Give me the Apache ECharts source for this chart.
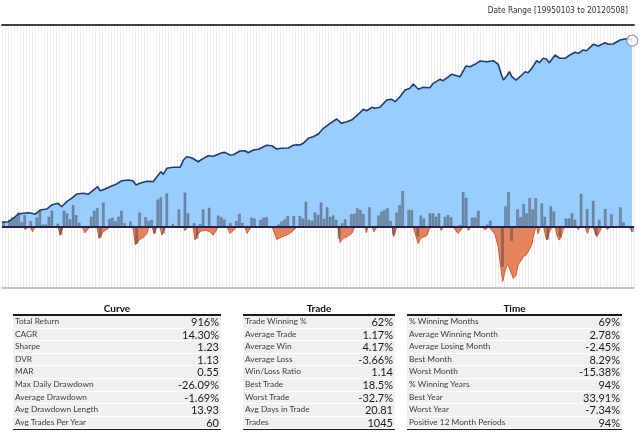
<!DOCTYPE html>
<html>
<head>
<meta charset="utf-8">
<script src="https://cdn.jsdelivr.net/npm/echarts@6/dist/echarts.min.js"></script>
<style>
  html, body { margin: 0; padding: 0; background: #fff; }
  #chart { position: absolute; left: 0; top: 0; width: 640px; height: 433px; }
  .tbl { position: absolute; top: 302px; font-family: Lato, "Open Sans", sans-serif; }
  .tbl .hd { height: 12px; line-height: 12px; text-align: center; font-weight: bold; font-size: 10px; color: #111; border-bottom: 2px solid #1a1a1a; }
  .tbl .row { height: 11.6px; border-bottom: 1px solid #ffffff; background: #f0f0f0; position: relative; }
  .tbl .lab { position: absolute; left: 2px; top: 0; line-height: 11.6px; font-size: 8.3px; color: #404040; }
  .tbl .val { position: absolute; right: 2px; top: 0; line-height: 11.6px; font-size: 11px; color: #1a1a1a; }
  .tbl .foot { border-top: 2px solid #1a1a1a; margin-top: -1px; }
</style>
</head>
<body>
<div id="chart"></div>
<script>
// ---- Data (months since 1995-01) ----
const titleText = 'Date Range [19950103 to 20120508]';
const monthCount = 209; // Jan 1995 .. May 2012

// Growth of $1 (log-scaled in the chart): [monthsSinceStart, equity]
const equityCurve = [
[0,1.000],[2.1,1.008],[3.7,1.052],[5.4,1.112],[7.0,1.122],[8.7,1.130],[9.8,1.122],[10.9,1.107],[12.6,1.170],[14.8,1.185],
[16.4,1.247],[18.6,1.274],[19.7,1.220],[21.4,1.301],[23.0,1.358],[24.7,1.435],[26.9,1.448],[28.5,1.430],[30.2,1.510],[31.6,1.575],
[32.4,1.497],[34.1,1.530],[35.7,1.575],[37.9,1.631],[39.6,1.701],[41.8,1.716],[43.4,1.694],[44.3,1.610],[45.6,1.645],[47.9,1.688],
[50.0,1.680],[51.2,1.789],[52.6,1.908],[53.3,1.845],[54.5,1.992],[56.6,2.018],[58.9,2.018],[60.0,2.214],[61.1,2.310],[62.7,2.281],
[63.3,2.331],[64.9,2.167],[66.6,2.263],[68.2,2.340],[69.9,2.322],[72.7,2.431],[73.7,2.443],[75.4,2.361],[76.5,2.370],[78.7,2.485],
[80.4,2.494],[81.4,2.431],[83.1,2.516],[84.8,2.539],[87.5,2.673],[89.2,2.659],[90.8,2.549],[92.5,2.572],[94.7,2.582],[96.3,2.673],
[97.5,2.693],[98.5,2.683],[99.6,2.741],[101.3,2.922],[102.9,2.982],[104.6,3.086],[106.3,3.320],[108.5,3.539],[110.7,3.738],[111.2,3.786],
[112.3,3.539],[114.0,3.611],[115.6,3.690],[117.3,3.898],[119.5,4.231],[120.6,4.155],[122.3,4.341],[123.3,4.286],[125.0,4.341],[127.2,4.763],
[128.9,4.806],[130.0,4.661],[131.6,4.969],[133.3,5.412],[134.9,5.531],[136.0,5.842],[137.7,5.461],[139.3,5.601],[141.5,5.573],[142.6,5.895],
[144.8,6.204],[145.9,6.094],[148.7,6.614],[151.5,6.414],[153.4,7.352],[154.8,7.287],[156.4,7.513],[158.1,7.837],[160.3,7.767],[162.5,7.867],
[164.1,7.513],[165.2,6.555],[165.8,6.149],[166.9,6.471],[167.8,6.836],[168.6,6.414],[170.0,6.149],[171.3,6.414],[173.0,6.836],[174.0,6.750],
[175.2,7.139],[176.8,7.867],[177.7,7.669],[179.0,8.112],[180.1,8.009],[181.0,7.669],[182.9,8.461],[184.5,8.112],[186.2,8.112],[187.8,8.461],
[189.5,8.758],[190.6,8.647],[192.2,9.020],[193.3,8.939],[195.5,9.698],[197.2,9.490],[199.4,9.899],[200.5,9.698],[202.1,9.736],[204.4,10.25],
[206.0,10.38],[207.7,10.38],[208.4,10.16]
];

// Daily drawdown (%): [monthsSinceStart, drawdown]
const drawdown = [
[0,0],[6.9,0],[7.8,-1.4],[8.6,0],[9.3,0],[10.1,-2.4],[10.9,0],[18.5,0],[19.2,-4.0],[20.2,0],
[26.5,0],[27.4,-2.9],[29.1,0],[31.4,0],[32.1,-5.6],[33.4,-2.5],[34.4,-1.5],[35.7,0],[43.3,0],[44.1,-8.6],
[45.0,-7.0],[46.0,-5.6],[47.0,-4.8],[48.0,-3.0],[48.6,0],[49.6,0],[50.3,-3.2],[51.3,0],[52.2,0],[52.9,-4.0],
[53.9,0],[59.9,0],[60.5,-1.9],[61.5,0],[63.2,0],[63.8,-6.4],[64.8,-3.5],[65.8,-2.0],[67.5,-1.8],[68.8,-2.4],
[69.8,-4.0],[70.8,-2.0],[71.4,0],[74.4,0],[75.4,-3.2],[76.7,-1.5],[77.7,0],[80.4,0],[81.0,-3.2],[82.0,-1.0],
[82.7,0],[89.3,0],[90.9,-6.1],[92.6,-4.8],[94.2,-4.0],[95.9,-2.4],[97.6,0],[111.1,0],[111.8,-7.6],[112.8,-5.5],
[114.1,-4.8],[115.7,-3.2],[116.7,0],[120.0,0],[120.5,-2.9],[121.0,0],[122.4,0],[123.0,-2.4],[124.0,0],[129.0,0],
[129.5,-4.8],[130.6,0],[136.0,0],[137.6,-8.0],[138.6,-5.3],[139.6,-4.8],[140.5,-4.2],[141.2,-1.5],[141.9,0],[144.8,0],
[145.3,-1.9],[145.8,0],[149.1,0],[150.8,-3.2],[151.8,-1.5],[152.4,0],[153.8,0],[154.3,-1.9],[154.8,0],[158.7,0],
[159.7,-1.4],[161.0,0],[161.5,0],[161.9,-1.6],[163.0,-3.5],[164.1,-9.5],[164.9,-19.1],[165.6,-26.09],[166.3,-21.5],[167.1,-17.5],
[168.0,-20.5],[169.1,-24.7],[170.0,-22.9],[170.7,-18.1],[171.9,-15.7],[172.4,-14.3],[173.3,-13.5],[174.0,-11.9],[175.2,-8.6],[175.7,-4.8],
[176.3,-1.4],[176.8,0],[177.3,-3.3],[178.0,0],[179.1,0],[180.1,-6.4],[180.9,-3.0],[181.9,0],[182.9,0],[183.5,-4.0],
[184.2,-6.4],[184.9,-5.0],[185.5,-1.5],[186.2,0],[190.1,0],[190.6,-1.4],[191.1,0],[192.8,0],[193.6,-3.2],[194.4,0],
[195.4,0],[196.7,-4.8],[197.8,-2.0],[198.4,0],[199.4,0],[200.2,-1.4],[201.1,0],[207.4,0],[208.4,-2.4]
];

// Monthly return bars (%), one per month from Jan 1995
const monthlyReturns = [
1.2,0,1.6,2.2,2.3,3.3,1.0,2.7,0,1.3,0,2.1,
3.7,0.5,0.5,2.3,3.7,0,0.7,-1.9,3.7,3.1,1.7,5.0,
2.7,0.9,0,0,0,2.3,3.7,4.3,-2.6,5.6,0,1.8,
2.1,1.3,2.3,3.7,0.8,0,1.2,0,-4.0,3.3,0,2.2,
1.3,1.6,-1.6,6.3,6.8,-1.6,7.7,0,0.6,0,4.0,0,
7.9,3.1,0,0.8,-2.8,0.6,4.0,0,4.4,0,0,2.6,
2.2,1.7,0,0.8,0,1.3,3.0,0.9,0,0,2.1,1.9,
0,1.6,2.1,2.2,0,0,0,0.5,1.2,1.7,2.5,0,
2.5,0,2.5,1.9,5.8,1.6,1.4,3.3,2.7,5.6,1.8,4.5,
2.3,2.6,1.6,-2.8,0.8,1.7,0,2.9,3.0,4.3,3.9,2.9,
0,4.5,0,0,2.6,3.5,3.9,4.3,1.3,-1.9,3.3,5.0,
8.29,0,3.9,3.9,0,-2.3,2.6,1.9,0,3.1,3.1,2.3,
3.1,0,2.3,2.7,2.2,0,0,0.4,8.1,6.7,0,2.1,
2.1,3.7,0,0,0.5,1.4,0,0,0,-9.3,4.7,8.1,
-3.3,0,4.0,2.2,5.3,3.1,6.6,4.0,6.6,0,5.4,2.3,
-3.0,4.7,3.5,0,-2.3,0,1.9,1.9,3.1,1.6,0,7.6,
0,4.1,0,6.0,-1.9,1.6,0,4.1,0,2.9,0,0,
4.5,1.0,0,0,-1.2
];

// Statistics tables
const curveTitle = 'Curve';
const curveLabels = ['Total Return','CAGR','Sharpe','DVR','MAR','Max Daily Drawdown','Average Drawdown','Avg Drawdown Length','Avg Trades Per Year'];
const curveValues = ['916%','14.30%','1.23','1.13','0.55','-26.09%','-1.69%','13.93','60'];
const tradeTitle = 'Trade';
const tradeLabels = ['Trade Winning %','Average Trade','Average Win','Average Loss','Win/Loss Ratio','Best Trade','Worst Trade','Avg Days in Trade','Trades'];
const tradeValues = ['62%','1.17%','4.17%','-3.66%','1.14','18.5%','-32.7%','20.81','1045'];
const timeTitle = 'Time';
const timeLabels = ['% Winning Months','Average Winning Month','Average Losing Month','Best Month','Worst Month','% Winning Years','Best Year','Worst Year','Positive 12 Month Periods'];
const timeValues = ['69%','2.78%','-2.45%','8.29%','-15.38%','94%','33.91%','-7.34%','94%'];

// ---- Chart ----
const chart = echarts.init(document.getElementById('chart'), null, { renderer: 'canvas' });
const barData = monthlyReturns.map((v, i) => [i + 0.5, v]);
const lastPoint = equityCurve[equityCurve.length - 1];

chart.setOption({
  animation: false,
  backgroundColor: '#ffffff',
  title: {
    text: titleText, right: 7, top: 2,
    textStyle: { fontSize: 8.3, fontWeight: 'normal', color: '#333', fontFamily: '"Liberation Sans Narrow", "DejaVu Sans Condensed", Lato' }
  },
  grid: [
    { left: 2, right: 6, top: 25, bottom: 145 },
    { left: 2, right: 6, top: 25, bottom: 206 }
  ],
  xAxis: [
    { type: 'value', gridIndex: 0, position: 'bottom', min: 0, max: monthCount, interval: 1,
      axisLine: { show: true, onZero: false, lineStyle: { color: '#b4b4b4', width: 1.5 } },
      axisTick: { show: false }, axisLabel: { show: false },
      splitLine: { show: true, lineStyle: { color: '#efefef', width: 1 } } },
    { type: 'value', gridIndex: 0, position: 'top', min: 0, max: monthCount,
      axisLine: { show: true, onZero: false, lineStyle: { color: '#404040', width: 2 } },
      axisTick: { show: false }, axisLabel: { show: false }, splitLine: { show: false } },
    { type: 'value', gridIndex: 1, min: 0, max: monthCount, show: false }
  ],
  yAxis: [
    { type: 'value', gridIndex: 0, min: -29.23, max: 96.19, show: false },
    { type: 'value', gridIndex: 0, min: -14.26, max: 46.9, show: false },
    { type: 'log', logBase: 10, gridIndex: 1, min: 0.942, max: 12.41, show: false }
  ],
  series: [
    { name: 'Equity', type: 'line', xAxisIndex: 2, yAxisIndex: 2, data: equityCurve,
      showSymbol: false, z: 2,
      lineStyle: { color: '#1f3c73', width: 1.6 },
      areaStyle: { color: '#99ccff', opacity: 1 } },
    { name: 'Drawdown', type: 'line', xAxisIndex: 0, yAxisIndex: 0, data: drawdown,
      showSymbol: false, z: 3,
      lineStyle: { color: '#d35a34', width: 1 },
      areaStyle: { color: '#e4845f', opacity: 1 } },
    { name: 'Monthly', type: 'bar', xAxisIndex: 0, yAxisIndex: 1, data: barData,
      barWidth: 2.6, z: 4,
      itemStyle: { color: 'rgba(60,60,60,0.44)', borderColor: 'rgba(50,50,50,0.5)', borderWidth: 0.4 },
      markLine: { silent: true, symbol: ['none', 'none'], label: { show: false },
        lineStyle: { color: '#272150', width: 2, type: 'solid' },
        data: [{ yAxis: 0 }] } },
    { name: 'End', type: 'scatter', xAxisIndex: 2, yAxisIndex: 2, data: [lastPoint],
      symbol: 'circle', symbolSize: 11, z: 6,
      itemStyle: { color: '#ffffff', borderColor: '#808080', borderWidth: 1.2 } }
  ]
});

// ---- Tables (real text) ----
function makeTable(left, width, title, labels, values) {
  const t = document.createElement('div');
  t.className = 'tbl';
  t.style.left = left + 'px';
  t.style.width = width + 'px';
  let html = '<div class="hd">' + title + '</div>';
  for (let i = 0; i < labels.length; i++) {
    html += '<div class="row"><span class="lab">' + labels[i] + '</span><span class="val">' + values[i] + '</span></div>';
  }
  html += '<div class="foot"></div>';
  t.innerHTML = html;
  document.body.appendChild(t);
}
makeTable(13, 208, curveTitle, curveLabels, curveValues);
makeTable(243, 152, tradeTitle, tradeLabels, tradeValues);
makeTable(407, 215, timeTitle, timeLabels, timeValues);
</script>
</body>
</html>
